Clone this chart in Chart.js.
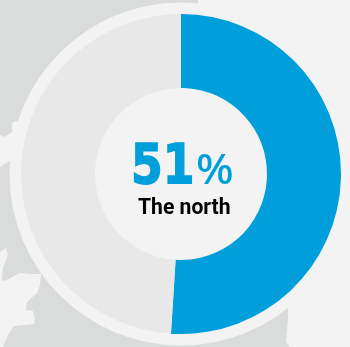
<!DOCTYPE html>
<html>
<head>
<meta charset="utf-8">
<script src="https://cdn.jsdelivr.net/npm/chart.js@4"></script>
<style>
    html, body { margin: 0; padding: 0; background: #f3f3f3; }
    #wrap { position: relative; width: 350px; height: 347px; overflow: hidden; }
    #map, #chart { position: absolute; left: 0; top: 0; }
    .label { position: absolute; white-space: nowrap; line-height: 1; transform-origin: left top; }
    #pct { left: 131px; top: 132px; font: 700 55px "DejaVu Sans", sans-serif; color: #009fdb; transform: scaleX(0.83); -webkit-text-stroke: 1.6px #009fdb; }
    #sign { left: 196px; top: 140px; font: 500 41px "Noto Sans", sans-serif; color: #009fdb; transform: scaleX(1.08); }
    #region { left: 138px; top: 194px; font: 700 22px Roboto, sans-serif; color: #000; transform: scaleX(0.96); }
</style>
</head>
<body>
<div id="wrap">
    <svg id="map" width="350" height="347">
        <!-- land behind the ring -->
        <path fill="#dadcdb" d="M0 0H198V10L40 120L18 122L16 121L12 123L12 132L5 137L0 135Z"/>
        <path fill="#dadcdb" d="M0 167L9 161L60 200L280 300L288 308L288 320L286 342L290 347H3L8 335L14 326L25 325L34 324L35 318L33 311L26 310L27 302L37 293L40 285L41 274L30 274L20 273L12 277L5 281L2 280L3 268L8 255L6 248L0 252Z"/>
        <circle cx="181" cy="174" r="171.5" fill="#f3f3f3"/>
    </svg>
    <canvas id="chart" width="350" height="347"></canvas>
    <div class="label" id="pct"></div>
    <div class="label" id="sign">%</div>
    <div class="label" id="region"></div>
</div>
<script>
const regions = ['The north', 'Rest'];
const shares = [51, 49];
const sliceColors = ['#009fdb', '#e8e8e8'];

document.getElementById('pct').textContent = shares[0];
document.getElementById('region').textContent = regions[0];

new Chart(document.getElementById('chart'), {
    type: 'doughnut',
    data: {
        labels: regions,
        datasets: [{
            data: shares,
            backgroundColor: sliceColors,
            borderWidth: 0
        }]
    },
    options: {
        responsive: false,
        animation: false,
        cutout: '53.75%',
        layout: { padding: { left: 21, right: 9, top: 14, bottom: 13 } },
        plugins: {
            legend: { display: false },
            tooltip: { enabled: false }
        }
    }
});
</script>
</body>
</html>
